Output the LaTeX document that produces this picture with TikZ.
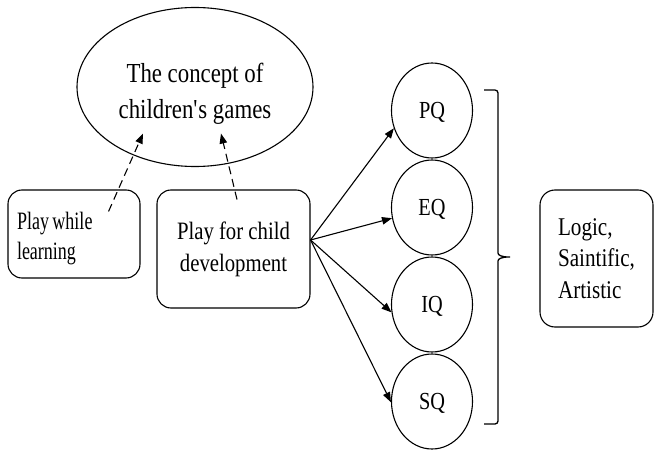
\documentclass[tikz,border=0pt]{standalone}
\usepackage{fontspec}
\setmainfont{Liberation Serif}[FakeStretch=0.83]
\newfontfamily\narrowserif{Liberation Serif}[FakeStretch=0.72]
\usetikzlibrary{shapes.geometric,arrows.meta}

\begin{document}
\begin{tikzpicture}[x=1pt,y=-1pt,
		box/.style={draw,rounded corners=14pt,line width=1.1pt,inner sep=0pt},
		qnode/.style={draw,ellipse,line width=1.1pt,minimum width=81pt,minimum height=95pt,inner sep=0pt,text depth=0pt,font=\fontsize{24.5}{28}\selectfont},
		tip/.style={-{Triangle[length=10pt,width=7.5pt]},line width=1.1pt}]
	\useasboundingbox (0,0) rectangle (654,452);
	
	\node[draw,ellipse,line width=1.1pt,minimum width=236pt,minimum height=159pt,align=center,text height=68pt,font=\fontsize{27.5}{36}\selectfont] (concept) at (195,87) {The concept of\\children\textquotesingle s games};
	\node[box,minimum width=132pt,minimum height=88pt,text width=114pt,align=left,text height=26pt,font=\narrowserif\fontsize{25}{30}\selectfont] (learn) at (74,234) {\spaceskip=3.5pt\relax Play while\\learning};
	\node[box,minimum width=153pt,minimum height=118pt,align=center,font=\fontsize{25}{32}\selectfont] (dev) at (233.5,249) {Play for child\\development};
	\node[box,rounded corners=15pt,minimum width=113pt,minimum height=137pt,align=left,font=\fontsize{25.5}{31.5}\selectfont] (logic) at (596.5,258.5) {Logic,\\Saintific,\\Artistic};
	
	\foreach \q [count=\i] in {PQ,EQ,IQ,SQ}
		\node[qnode] (\q) at (432,{13.5+97*\i}) {\q};
	
	\draw[tip,dash pattern=on 8pt off 5pt] ([shift={(-32,22)}]learn.north east) -- ([shift={(-52,-33.5)}]concept.south);
	\draw[tip,dash pattern=on 8pt off 5pt] ([shift={(3.5,10)}]dev.north) -- ([shift={(26,-33.5)}]concept.south);
	
	\coordinate (fan) at ([shift={(0,-9)}]dev.east);
	\foreach \q/\a in {PQ/205,EQ/195,IQ/191,SQ/181}
		\draw[tip] (fan) -- (\q.\a);
	
	% brace
	\draw[line width=1.3pt,rounded corners=3pt] (484,90) -- (498,90) -- (498,250)
		.. controls (498,255) and (501,257) .. (512,257)
		.. controls (501,257) and (498,259) .. (498,264) -- (498,424) -- (484,424);
\end{tikzpicture}
\end{document}
